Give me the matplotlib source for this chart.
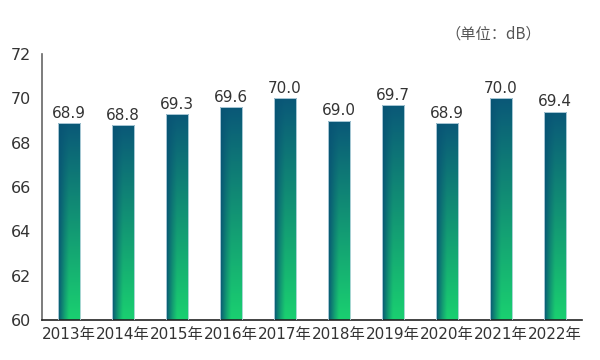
import numpy as np
import matplotlib
matplotlib.use("Agg")
import matplotlib.pyplot as plt

plt.rcParams['font.family'] = ['DejaVu Sans', 'Noto Sans CJK SC']

years = ["2013年", "2014年", "2015年", "2016年", "2017年", "2018年", "2019年", "2020年", "2021年", "2022年"]
values = [68.9, 68.8, 69.3, 69.6, 70.0, 69.0, 69.7, 68.9, 70.0, 69.4]
yticks = [60, 62, 64, 66, 68, 70, 72]

fig = plt.figure(figsize=(6, 3.6), dpi=100)
ax = fig.add_axes([0.07, 0.111, 0.9, 0.739])

# gradient image: vertical dark->green, with darker band at left edge
top_c = np.array([10, 88, 120]) / 255
bot_c = np.array([26, 208, 112]) / 255
dark_c = np.array([8, 84, 116]) / 255
nx, ny = 40, 120
xx, yy = np.meshgrid(np.linspace(0, 1, nx), np.linspace(0, 1, ny))
ty = 1 - yy  # 0 at top, 1 at bottom (origin lower)
vert = top_c[None, None, :] * (1 - ty[..., None]) + bot_c[None, None, :] * ty[..., None]
a = np.clip(1 - xx / 0.5, 0, 1)[..., None] ** 1.2
img = vert * (1 - a) + dark_c[None, None, :] * a

x = np.arange(len(years))
width = 0.42
bars = ax.bar(x, [v - 60 for v in values], width=width, bottom=60,
              color='none', edgecolor='#c4dbe6', linewidth=0.6, zorder=3)
for b in bars:
    x0, y0 = b.get_x(), b.get_y()
    w, h = b.get_width(), b.get_height()
    im = ax.imshow(img, origin='lower', aspect='auto',
                   extent=[x0, x0 + w, y0, y0 + h], zorder=2, interpolation='bilinear')
    im.set_clip_path(b)

for xi, v in zip(x, values):
    ax.text(xi, v + 0.1, f"{v:.1f}", ha='center', va='bottom', fontsize=11, color='#333333', zorder=4)

ax.set_xlim(-0.5, len(years) - 0.5)
ax.set_ylim(60, 72)
ax.set_yticks(yticks)
ax.set_xticks(x)
ax.set_xticklabels(years)
ax.tick_params(axis='both', length=0, labelsize=11, colors='#333333')
ax.tick_params(axis='y', pad=8, labelsize=11.5)
ax.tick_params(axis='x', pad=5)
for s in ['top', 'right']:
    ax.spines[s].set_visible(False)
ax.spines['left'].set_color('#666666')
ax.spines['left'].set_linewidth(1.2)
ax.spines['bottom'].set_color('#222222')
ax.spines['bottom'].set_linewidth(1.2)

fig.text(0.822, 0.905, "（单位：dB）", fontsize=11, color='#555555', ha='center', va='center',
         family=['Noto Sans CJK SC', 'DejaVu Sans'])

fig.savefig("out.png", dpi=100)
